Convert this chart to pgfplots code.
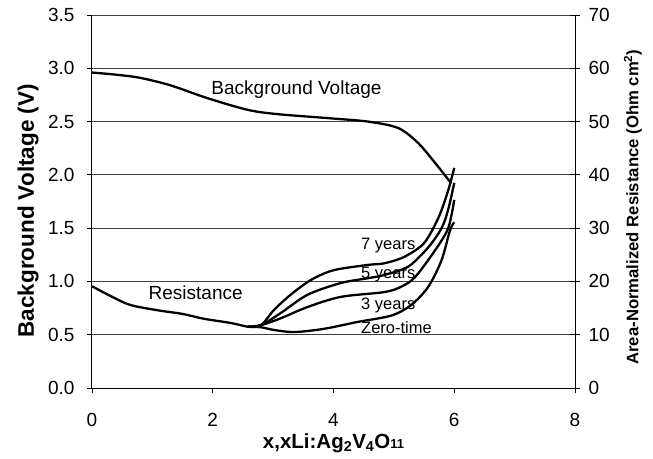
\documentclass[border=0pt]{standalone}
\usepackage{pgfplots}
\pgfplotsset{compat=1.18}
\usepackage{fontspec}
\setmainfont{Liberation Sans}
\begin{document}
\begin{tikzpicture}
\path[use as bounding box] (-92pt,-70pt) rectangle (561pt,388pt);
\begin{axis}[
 scale only axis, width=483pt, height=373pt,
 xmin=0, xmax=8, ymin=0, ymax=3.5,
 xtick={0,2,4,6,8}, ytick={0,0.5,1,1.5,2,2.5,3,3.5},
 axis x line*=bottom, axis y line*=left,
 tick align=outside, major tick length=5pt,
 tick style={black, line width=0.8pt},
 ymajorgrids, grid style={black!75, line width=0.9pt},
 axis line style={black, line width=1pt},
 ticklabel style={font=\fontsize{19}{19}\selectfont},
 /pgf/number format/assume math mode=true,
 yticklabel style={xshift=-9pt, /pgf/number format/.cd, fixed, fixed zerofill, precision=1},
 xticklabel style={yshift=-17pt},
 xlabel={\bfseries x,xLi:Ag\textsubscript{2}V\textsubscript{4}O{\fontsize{13}{13}\selectfont 11}},
 xlabel style={at={(axis description cs:0.5,-0.1475)}, anchor=center, font=\fontsize{20.5}{20.5}\selectfont},
 ylabel={\bfseries Background Voltage (V)},
 ylabel style={at={(axis description cs:-0.1325,0.475)}, anchor=center, font=\fontsize{22.5}{22.5}\selectfont},
]
\addplot[black, no marks, line width=2.3pt, smooth] coordinates {(0,2.96) (0.4,2.94) (0.8,2.91) (1.3,2.84) (1.91,2.72) (2.58,2.61) (3.07,2.57) (3.96,2.53) (4.57,2.50) (5.07,2.44) (5.4,2.30) (5.7,2.10) (5.95,1.92)};
\node[anchor=base west, font=\fontsize{19}{19}\selectfont] at (axis cs:1.92,2.75) {Background Voltage};
\node[anchor=base west, font=\fontsize{19}{19}\selectfont] at (axis cs:0.88,0.826) {Resistance};
\node[anchor=base west, font=\fontsize{16.5}{16.5}\selectfont] at (axis cs:4.40,1.30) {7 years};
\node[anchor=base west, font=\fontsize{16.5}{16.5}\selectfont] at (axis cs:4.40,1.03) {5 years};
\node[anchor=base west, font=\fontsize{16.5}{16.5}\selectfont] at (axis cs:4.40,0.74) {3 years};
\node[anchor=base west, font=\fontsize{16.5}{16.5}\selectfont] at (axis cs:4.40,0.507) {Zero-time};
\end{axis}
\begin{axis}[
 scale only axis, width=483pt, height=373pt,
 xmin=0, xmax=8, ymin=0, ymax=70,
 axis x line=none, axis y line*=right,
 ytick={0,10,20,30,40,50,60,70},
 tick align=center, major tick length=10pt,
 tick style={black, line width=0.8pt},
 axis line style={black, line width=1pt},
 ticklabel style={font=\fontsize{19}{19}\selectfont},
 yticklabel style={xshift=5pt},
 /pgf/number format/assume math mode=true,
 ylabel={\bfseries Area-Normalized Resistance (Ohm cm\textsuperscript{2})},
 ylabel style={at={(axis description cs:1.12,0.485)}, anchor=center, font=\fontsize{16.7}{16.7}\selectfont},
]
% common part + zero-time
\addplot[black, no marks, line width=2.3pt, smooth] coordinates {(0,19.1) (0.3,17.3) (0.63,15.6) (1.08,14.6) (1.5,13.9) (1.85,13.0) (2.3,12.2) (2.58,11.5) (2.8,11.4) (3.01,10.9) (3.35,10.5) (3.84,11.1) (4.4,12.4) (4.96,13.6) (5.29,15.6) (5.57,19.0) (5.79,24.0) (5.93,29.6) (6.0,31.1)};
% 3 years
\addplot[black, no marks, line width=2.3pt, smooth] coordinates {(2.58,11.5) (2.8,11.8) (3.13,13.1) (3.57,15.2) (4.12,17.1) (4.84,18.0) (5.12,19.0) (5.35,20.8) (5.68,25.8) (5.9,30.0) (6.0,35.3)};
% 5 years
\addplot[black, no marks, line width=2.3pt, smooth] coordinates {(2.58,11.5) (2.8,11.8) (3.13,14.1) (3.57,17.5) (4.12,19.7) (4.57,20.6) (4.84,21.2) (5.24,22.8) (5.57,26.4) (5.79,30.0) (5.9,33.5) (6.0,38.5)};
% 7 years
\addplot[black, no marks, line width=2.3pt, smooth] coordinates {(2.58,11.5) (2.8,11.8) (3.01,14.6) (3.29,17.5) (3.63,20.3) (4.0,22.1) (4.57,23.1) (4.84,23.4) (5.17,24.6) (5.5,27.2) (5.74,32.0) (5.9,37.1) (6.0,41.3)};
\end{axis}
\end{tikzpicture}
\end{document}
